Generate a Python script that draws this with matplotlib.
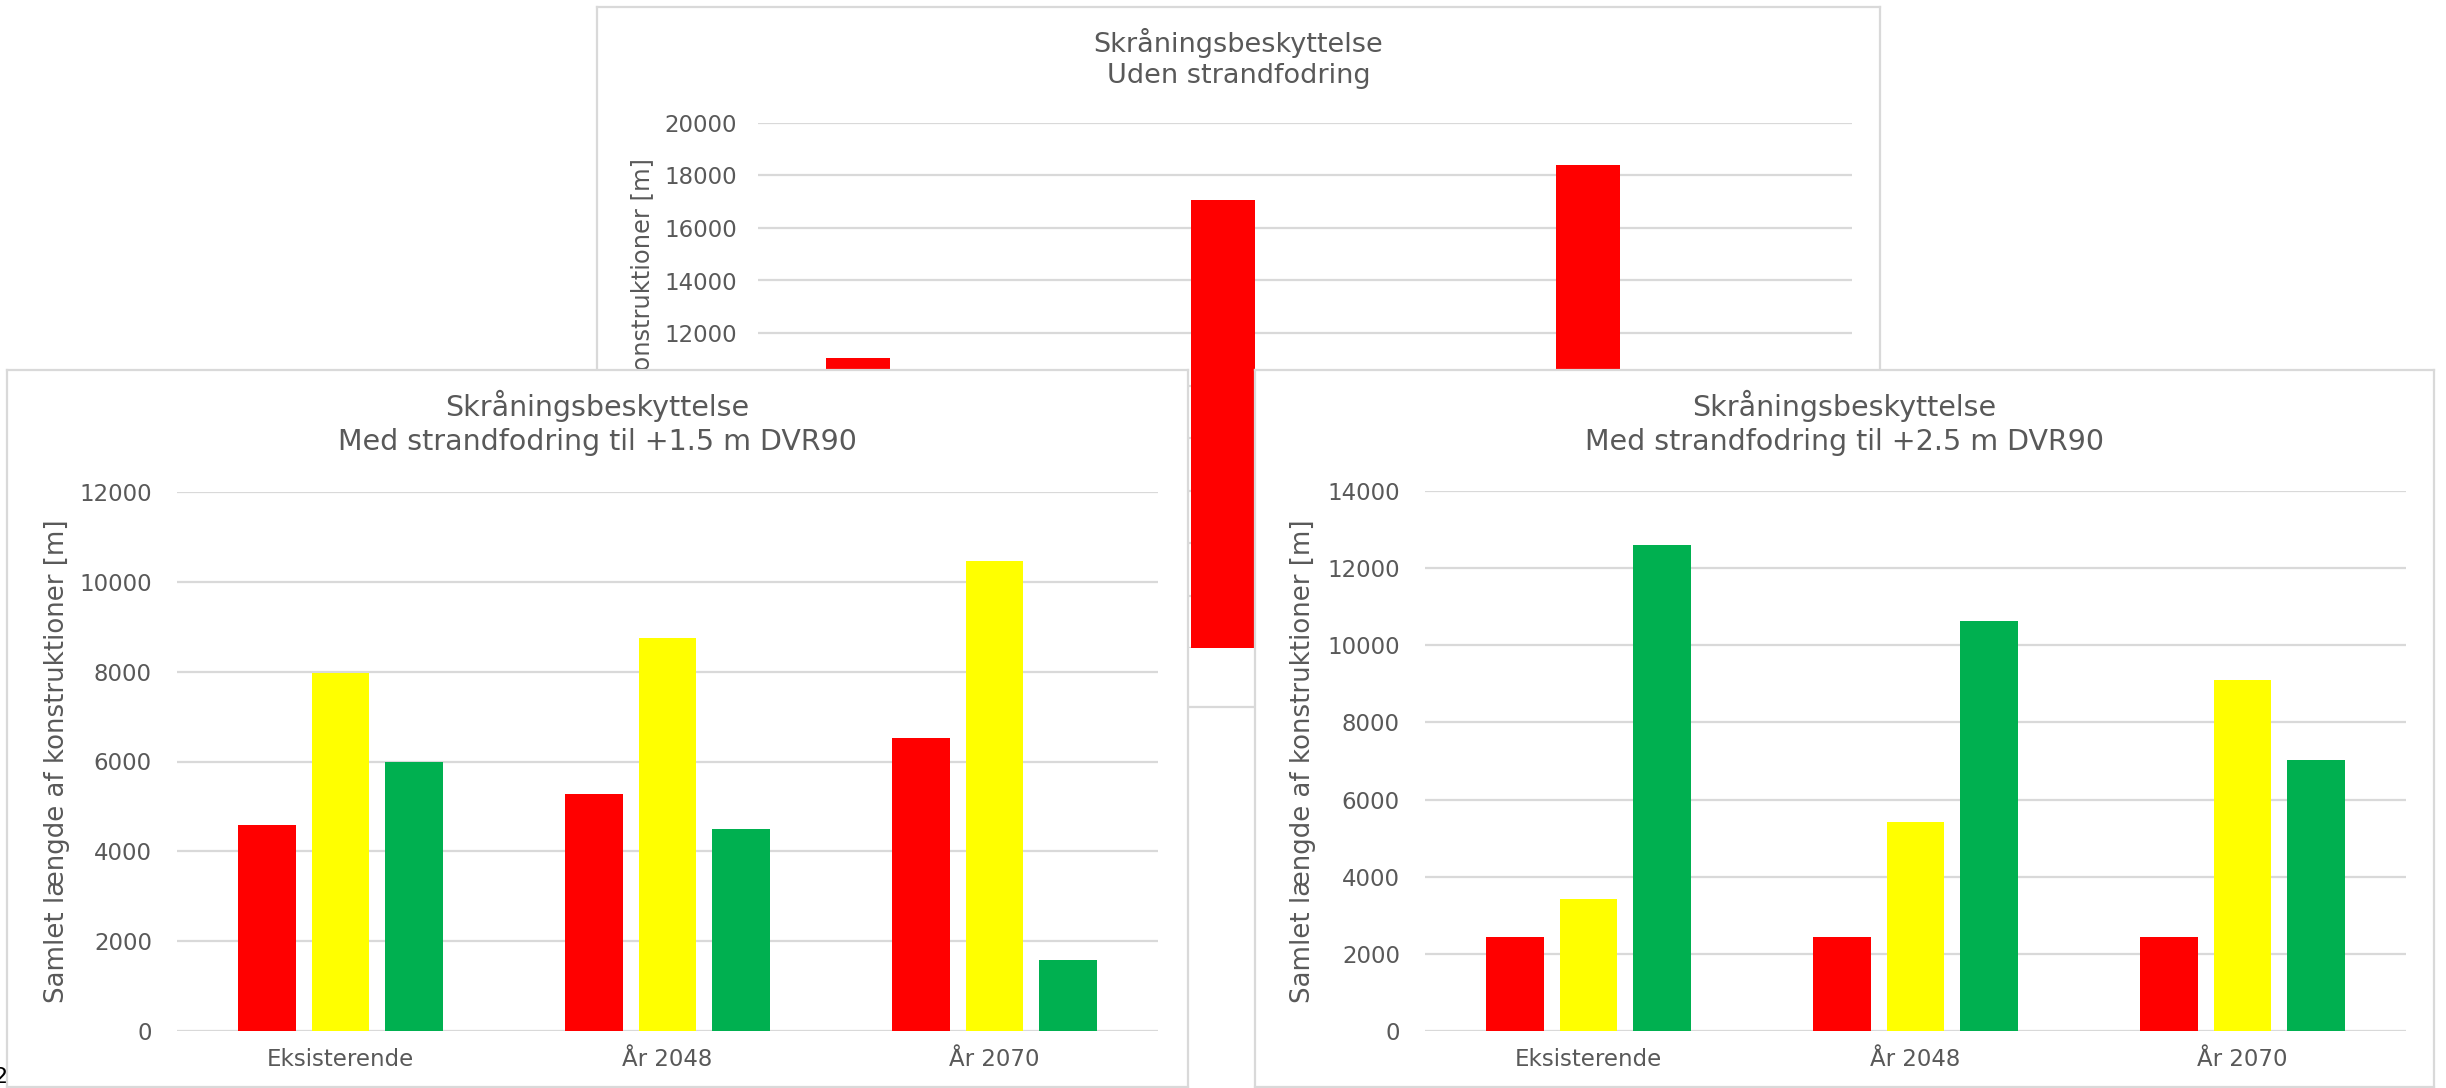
import numpy as np
import matplotlib
matplotlib.use("Agg")
import matplotlib.pyplot as plt

W, H = 2446, 1088

categories = ["Eksisterende", "År 2048", "År 2070"]
series_colors = ["#ff0000", "#ffff00", "#00b050"]
ylabel = "Samlet længde af konstruktioner [m]"

# Uden strandfodring (only the red class has lengths)
uden_red = [11050, 17050, 18400]
uden_yellow = [0, 0, 0]
uden_green = [0, 0, 0]

# Med strandfodring til +1.5 m DVR90
med15_red = [4580, 5270, 6530]
med15_yellow = [7960, 8760, 10470]
med15_green = [5980, 4490, 1580]

# Med strandfodring til +2.5 m DVR90
med25_red = [2430, 2430, 2430]
med25_yellow = [3430, 5430, 9100]
med25_green = [12600, 10630, 7020]

TXT = "#595959"
GRID = "#d9d9d9"

plt.rcParams["font.family"] = ["DejaVu Sans"]

fig = plt.figure(figsize=(W / 100, H / 100), dpi=100)
fig.patch.set_facecolor("white")


def box(l, t, r, b):
    return [l / W, 1 - b / H, (r - l) / W, (b - t) / H]


def fpos(x, y):
    return x / W, 1 - y / H


def panel(frame, plot, z, title, title_y, title_size, ylim, yticks, values,
          ytick_pad, ylab_xy, ylab_size, tick_size=16.5):
    fr = fig.add_axes(box(*frame), zorder=z)
    fr.set_xticks([])
    fr.set_yticks([])
    fr.set_facecolor("white")
    for s in fr.spines.values():
        s.set_color(GRID)
        s.set_linewidth(1.6)

    ax = fig.add_axes(box(*plot), zorder=z + 1)
    ax.patch.set_alpha(0)
    x = np.arange(len(categories))
    width, step = 0.175, 0.225
    for i, (vals, col) in enumerate(zip(values, series_colors)):
        ax.bar(x + (i - 1) * step, vals, width, color=col, linewidth=0)
    ax.set_xlim(-0.5, len(categories) - 0.5)
    ax.set_ylim(*ylim)
    ax.set_yticks(yticks)
    ax.set_xticks(x)
    ax.set_xticklabels(categories)
    ax.tick_params(axis="both", length=0, labelsize=tick_size, labelcolor=TXT)
    ax.tick_params(axis="y", pad=ytick_pad)
    ax.tick_params(axis="x", pad=12)
    for s in ax.spines.values():
        s.set_visible(False)
    ax.yaxis.grid(True, color=GRID, linewidth=1.6)
    ax.set_axisbelow(True)

    cx = (frame[0] + frame[2]) / 2
    for line, ty in zip(title.split("\n"), title_y):
        fr.text(*fpos(cx, ty), line, transform=fig.transFigure, ha="center",
                va="center", fontsize=title_size, color=TXT)
    fr.text(*fpos(*ylab_xy), ylabel, transform=fig.transFigure, rotation=90,
            ha="center", va="center", fontsize=ylab_size, color=TXT)
    return ax


panel((597, 7, 1880, 707), (758, 123, 1852, 648), 0,
      "Skråningsbeskyttelse\nUden strandfodring", (43, 76), 19.5,
      (0, 20000), np.arange(0, 20001, 2000),
      [uden_red, uden_yellow, uden_green], 15, (643, 382), 17.4)

panel((7, 370, 1188, 1087), (177, 492, 1158, 1031), 2,
      "Skråningsbeskyttelse\nMed strandfodring til +1.5 m DVR90", (406, 442), 20.5,
      (0, 12000), np.arange(0, 12001, 2000),
      [med15_red, med15_yellow, med15_green], 18, (57, 761), 18.7)

panel((1255, 370, 2434, 1087), (1425, 491, 2406, 1031), 4,
      "Skråningsbeskyttelse\nMed strandfodring til +2.5 m DVR90", (406, 442), 20.5,
      (0, 14000), np.arange(0, 14001, 2000),
      [med25_red, med25_yellow, med25_green], 18, (1303, 761), 18.7)

fig.text(*fpos(-7, 1083), "2", fontsize=16, color="black", va="baseline",
         zorder=10)

fig.savefig("out.png", dpi=100, facecolor="white")
